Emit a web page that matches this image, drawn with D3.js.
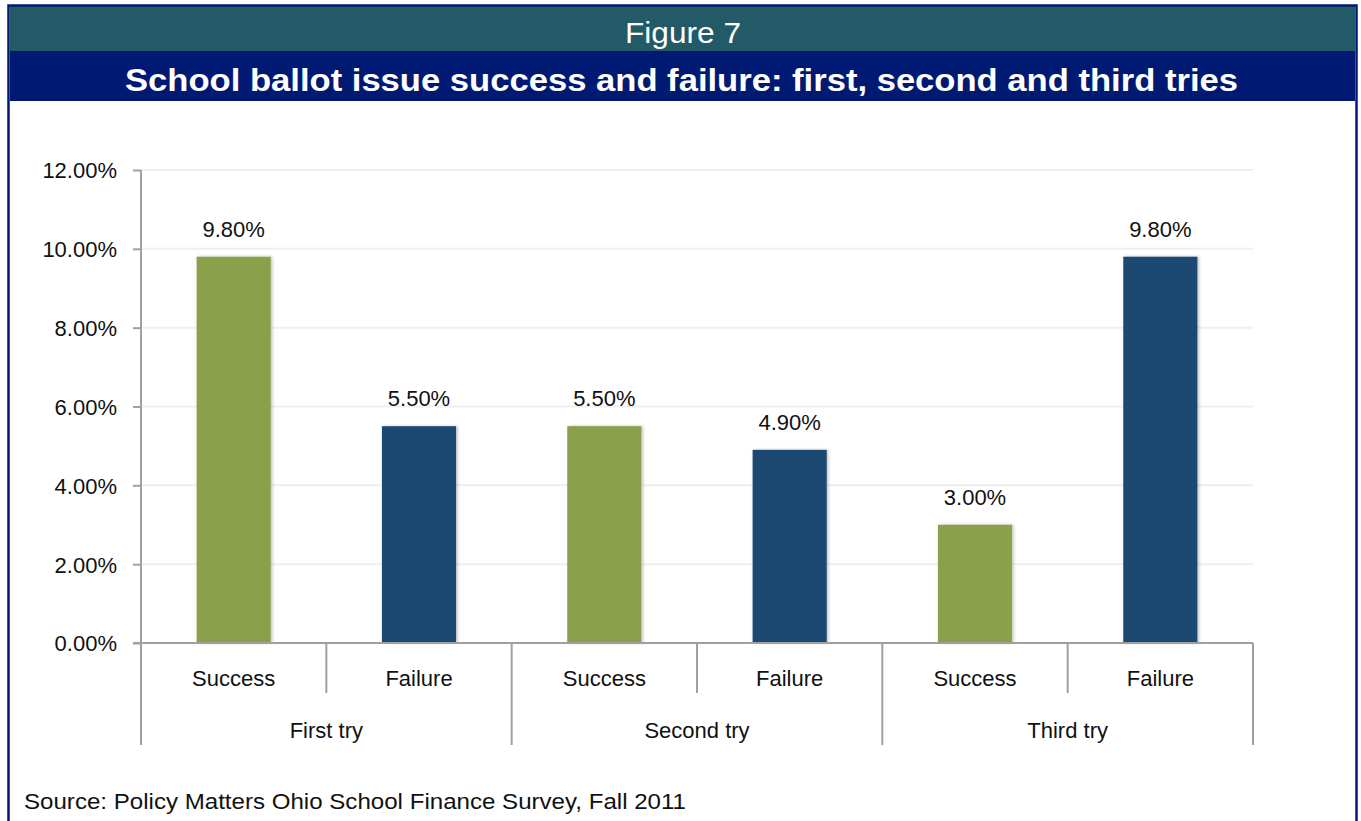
<!DOCTYPE html>
<html>
<head>
<meta charset="utf-8">
<script src="https://cdn.jsdelivr.net/npm/d3@7"></script>
<style>
  html, body { margin: 0; padding: 0; background: #ffffff; }
  svg { display: block; font-family: "Liberation Sans", Arial, sans-serif; }
</style>
</head>
<body>
<svg id="chart" width="1361" height="821"></svg>
<script>
// Survey results: share of ballot issues by attempt and outcome
const groups = ["First try", "Second try", "Third try"];
const outcomes = ["Success", "Failure"];
const successValues = [9.8, 5.5, 3.0];
const failureValues = [5.5, 4.9, 9.8];
const yTicks = [0, 2, 4, 6, 8, 10, 12];

const figureLabel = "Figure 7";
const titleText = "School ballot issue success and failure: first, second and third tries";
const sourceText = "Source: Policy Matters Ohio School Finance Survey, Fall 2011";

const colors = { Success: "#8AA04B", Failure: "#1F4A72" };

// flatten into one row per bar
const rows = [];
groups.forEach((g, i) => {
  rows.push({ group: g, outcome: "Success", value: successValues[i], key: g + "|Success" });
  rows.push({ group: g, outcome: "Failure", value: failureValues[i], key: g + "|Failure" });
});

const svg = d3.select("#chart");

// frame and header bands
svg.append("rect").attr("x", 10).attr("y", 6).attr("width", 1345).attr("height", 45).attr("fill", "#225A68");
svg.append("rect").attr("x", 10).attr("y", 51).attr("width", 1345).attr("height", 50).attr("fill", "#001A73");
svg.append("rect").attr("x", 8.5).attr("y", 5.5).attr("width", 1348).attr("height", 830)
  .attr("fill", "none").attr("stroke", "#001A73").attr("stroke-width", 2.5);

svg.append("text").attr("x", 625).attr("y", 43)
  .attr("textLength", 116).attr("lengthAdjust", "spacingAndGlyphs")
  .attr("fill", "#ffffff").attr("font-size", 30).text(figureLabel);
svg.append("text").attr("x", 125).attr("y", 91)
  .attr("textLength", 1113).attr("lengthAdjust", "spacingAndGlyphs")
  .attr("fill", "#ffffff").attr("font-size", 31).attr("font-weight", "bold").text(titleText);

// plot area
const plotLeft = 141, plotRight = 1253, plotTop = 170, plotBottom = 643;

const x = d3.scaleBand().domain(rows.map(d => d.key)).range([plotLeft, plotRight]).paddingInner(0.6).paddingOuter(0.3);
const y = d3.scaleLinear().domain([0, 12]).range([plotBottom, plotTop]);

// gridlines
svg.append("g").selectAll("line").data(yTicks.filter(t => t > 0)).join("line")
  .attr("x1", plotLeft).attr("x2", plotRight)
  .attr("y1", d => y(d)).attr("y2", d => y(d))
  .attr("stroke", "#EFEFEF").attr("stroke-width", 2);

// soft shadow for bars
const defs = svg.append("defs");
const f = defs.append("filter").attr("id", "barShadow").attr("x", "-20%").attr("y", "-5%").attr("width", "140%").attr("height", "110%");
f.append("feDropShadow").attr("dx", 1.5).attr("dy", 0).attr("stdDeviation", 1.5)
  .attr("flood-color", "#000").attr("flood-opacity", 0.25);

// bars
svg.append("g").selectAll("rect").data(rows).join("rect")
  .attr("x", d => x(d.key)).attr("width", x.bandwidth())
  .attr("y", d => y(d.value)).attr("height", d => plotBottom - y(d.value))
  .attr("fill", d => colors[d.outcome])
  .attr("filter", "url(#barShadow)");

// value labels
svg.append("g").selectAll("text").data(rows).join("text")
  .attr("x", d => x(d.key) + x.bandwidth() / 2)
  .attr("y", d => y(d.value) - 20)
  .attr("text-anchor", "middle").attr("font-size", 22).attr("fill", "#111")
  .text(d => d.value.toFixed(2) + "%");

// y axis
const yAxis = d3.axisLeft(y).tickValues(yTicks).tickSize(8).tickPadding(16)
  .tickFormat(d => d.toFixed(2) + "%");
const gy = svg.append("g").attr("transform", `translate(${plotLeft},0)`).call(yAxis);
gy.select(".domain").attr("stroke", "#A0A0A0").attr("stroke-width", 2).attr("d", `M0,${plotTop}V${plotBottom}`);
gy.selectAll(".tick line").attr("stroke", "#A0A0A0").attr("stroke-width", 2);
gy.selectAll(".tick text").attr("font-size", 22).attr("fill", "#111")
  .attr("font-family", "Liberation Sans, Arial, sans-serif").attr("dy", "0.36em");

// x axis: baseline, outcome labels, group labels, separators
const axisColor = "#A0A0A0";
const gx = svg.append("g");
gx.append("line").attr("x1", plotLeft - 8).attr("x2", plotRight).attr("y1", plotBottom).attr("y2", plotBottom)
  .attr("stroke", axisColor).attr("stroke-width", 2);

const step = x.step();
const innerDividers = groups.map(g => x(g + "|Failure") - x.paddingInner() * step / 2);
const groupEdges = [plotLeft].concat(groups.map(g => x(g + "|Failure") + x.bandwidth() + x.paddingInner() * step / 2));

gx.selectAll("line.inner").data(innerDividers).join("line").attr("class", "inner")
  .attr("x1", d => d).attr("x2", d => d).attr("y1", plotBottom).attr("y2", plotBottom + 50)
  .attr("stroke", axisColor).attr("stroke-width", 2);
gx.selectAll("line.outer").data(groupEdges).join("line").attr("class", "outer")
  .attr("x1", d => d).attr("x2", d => d).attr("y1", plotBottom).attr("y2", plotBottom + 102)
  .attr("stroke", axisColor).attr("stroke-width", 2);

gx.selectAll("text.outcome").data(rows).join("text").attr("class", "outcome")
  .attr("x", d => x(d.key) + x.bandwidth() / 2).attr("y", plotBottom + 43)
  .attr("text-anchor", "middle").attr("font-size", 22).attr("fill", "#111")
  .text(d => d.outcome);

gx.selectAll("text.group").data(groups).join("text").attr("class", "group")
  .attr("x", (d, i) => (groupEdges[i] + groupEdges[i + 1]) / 2).attr("y", plotBottom + 95)
  .attr("text-anchor", "middle").attr("font-size", 22).attr("fill", "#111")
  .text(d => d);

// source note
svg.append("text").attr("x", 24).attr("y", 809)
  .attr("textLength", 662).attr("lengthAdjust", "spacingAndGlyphs")
  .attr("font-size", 22).attr("fill", "#111").text(sourceText);
</script>
</body>
</html>
